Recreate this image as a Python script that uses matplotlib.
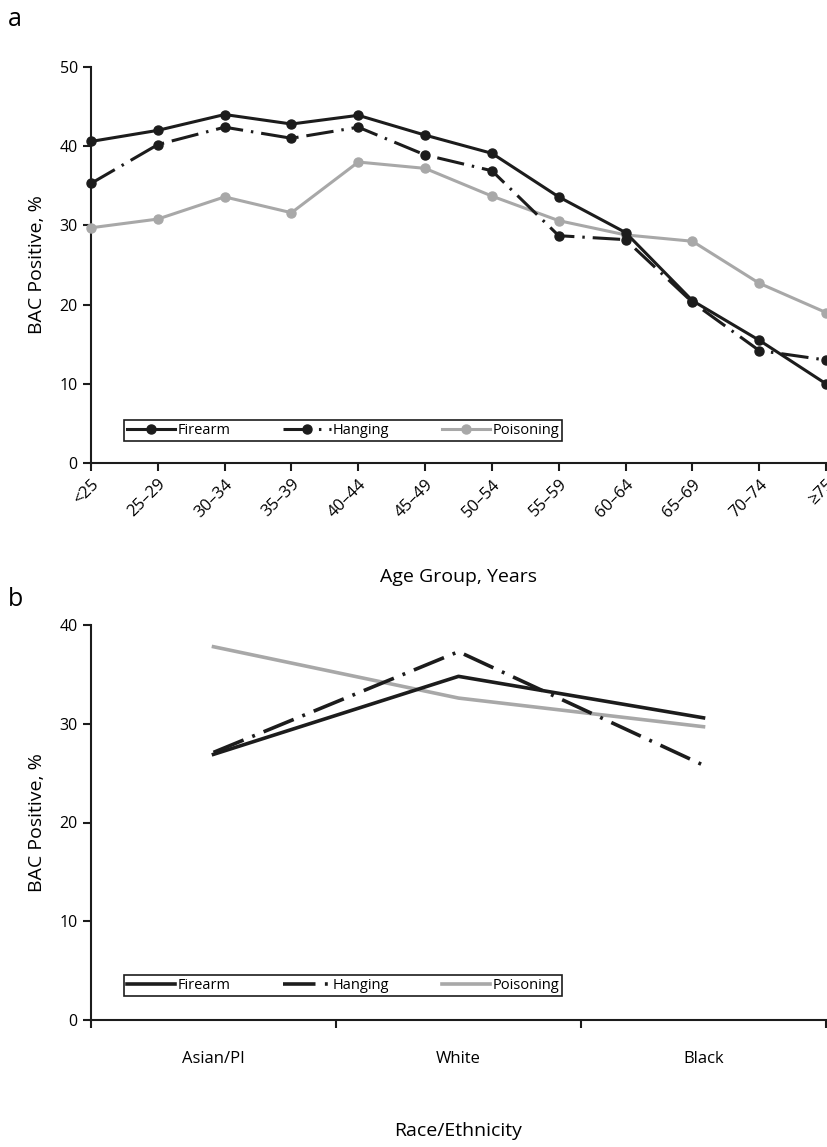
import numpy as np
import matplotlib
matplotlib.use('Agg')
import matplotlib.pyplot as plt

plt.rcParams['font.family'] = ['Open Sans', 'DejaVu Sans']

age_groups = ['<25', '25–29', '30–34', '35–39', '40–44', '45–49',
              '50–54', '55–59', '60–64', '65–69', '70–74', '≥75']
firearm_age = [40.6, 42.0, 44.0, 42.8, 43.9, 41.4, 39.1, 33.6, 29.1, 20.5, 15.5, 10.0]
hanging_age = [35.3, 40.2, 42.4, 41.0, 42.4, 38.9, 36.9, 28.7, 28.2, 20.3, 14.2, 13.0]
poisoning_age = [29.7, 30.8, 33.6, 31.6, 38.0, 37.2, 33.7, 30.6, 28.8, 28.0, 22.7, 19.0]

races = ['Asian/PI', 'White', 'Black']
firearm_race = [26.9, 34.8, 30.6]
hanging_race = [27.1, 37.3, 25.8]
poisoning_race = [37.8, 32.6, 29.7]

GRAY = '#a8a8a8'
DARK = '#1c1c1c'
HANG_DASH = (0, (9, 2.6, 0.8, 2.6))

fig = plt.figure(figsize=(8.28, 11.47), dpi=100)
ax1 = fig.add_axes([91 / 828, 1 - 463 / 1147, 735 / 828, 396 / 1147])
ax2 = fig.add_axes([91 / 828, 1 - 1020 / 1147, 735 / 828, 395 / 1147])


def style_axis(ax):
    ax.spines['top'].set_visible(False)
    ax.spines['right'].set_visible(False)
    for s in ('left', 'bottom'):
        ax.spines[s].set_linewidth(1.5)
        ax.spines[s].set_color(DARK)
    ax.tick_params(axis='both', which='major', length=6, width=1.5,
                   color=DARK, labelsize=11.5, direction='out')
    ax.set_ylabel('BAC Positive, %', fontsize=14, labelpad=10)


def add_legend(ax, h, l, y0):
    leg = ax.legend(h[::-1], l[::-1], loc='lower left', ncol=3, mode='expand',
                    bbox_to_anchor=(33 / 735, y0, 438 / 735, 0.055),
                    borderaxespad=0, fontsize=10.5, handlelength=3.3,
                    handletextpad=0.15, fancybox=False, edgecolor=DARK,
                    framealpha=1, borderpad=0.2)
    leg.get_frame().set_linewidth(1.2)


# panel a
x = np.arange(len(age_groups))
kw = dict(lw=2.2, marker='o', ms=6.5, clip_on=False, zorder=3)
ax1.plot(x, poisoning_age, color=GRAY, label='Poisoning', **kw)
ax1.plot(x, hanging_age, color=DARK, ls=HANG_DASH, label='Hanging', **kw)
ax1.plot(x, firearm_age, color=DARK, label='Firearm', **kw)
ax1.set_xlim(0, len(age_groups) - 1)
ax1.set_ylim(0, 50)
ax1.set_yticks(range(0, 51, 10))
ax1.set_xticks(x)
ax1.set_xticklabels(age_groups, rotation=45, ha='right', rotation_mode='anchor')
style_axis(ax1)
ax1.tick_params(axis='x', labelsize=12)
ax1.set_xlabel('Age Group, Years', fontsize=14, labelpad=34)
h, l = ax1.get_legend_handles_labels()
add_legend(ax1, h, l, 22 / 396)

# panel b
xb = np.arange(len(races)) + 0.5
ax2.plot(xb, poisoning_race, color=GRAY, lw=2.6, label='Poisoning')
ax2.plot(xb, hanging_race, color=DARK, lw=2.6, ls=HANG_DASH, label='Hanging')
ax2.plot(xb, firearm_race, color=DARK, lw=2.6, label='Firearm')
ax2.set_xlim(0, len(races))
ax2.set_ylim(0, 40)
ax2.set_yticks(range(0, 41, 10))
ax2.set_xticks(range(len(races) + 1))
ax2.set_xticklabels([])
ax2.set_xticks(xb, minor=True)
ax2.set_xticklabels(races, minor=True)
style_axis(ax2)
ax2.tick_params(axis='x', which='minor', length=0, labelsize=12, pad=22)
ax2.set_xlabel('Race/Ethnicity', fontsize=14, labelpad=40)
h, l = ax2.get_legend_handles_labels()
add_legend(ax2, h, l, 24 / 395)

fig.text(8 / 828, 1 - 20 / 1147, 'a', fontsize=18, va='center')
fig.text(8 / 828, 1 - 600 / 1147, 'b', fontsize=18, va='center')

fig.savefig('out.png', dpi=100)
